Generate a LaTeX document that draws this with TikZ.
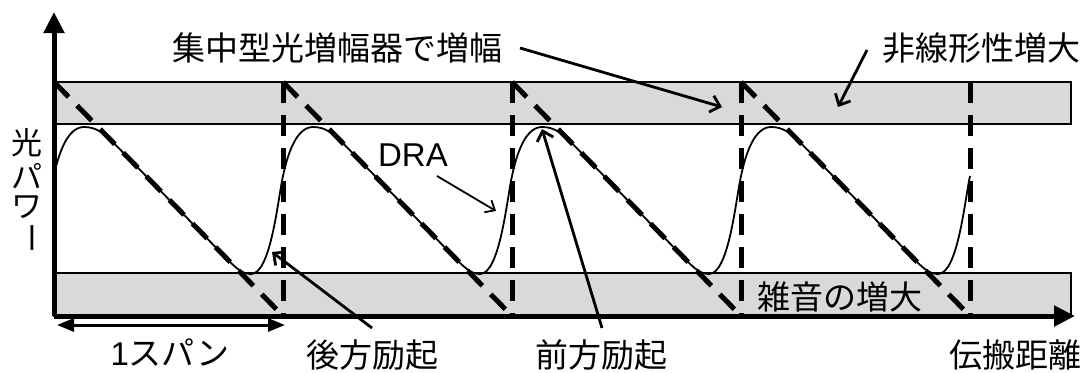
\documentclass[tikz,border=0pt]{standalone}
\usepackage{fontspec}
\setmainfont{Liberation Sans}
\newfontfamily\jp{Noto Sans CJK JP}
\usetikzlibrary{arrows.meta}
\definecolor{bandgray}{RGB}{217,217,217}
\begin{document}
\begin{tikzpicture}[x=1pt,y=-1pt,
  band/.style={draw=black,line width=2pt,fill=bandgray},
  axis/.style={line width=5pt,-{Triangle[length=21pt,width=20pt]}},
  dashline/.style={line width=5pt,dash pattern=on 21pt off 12pt},
  curve/.style={line width=1.8pt},
  ann/.style={line width=2.8pt,-{Straight Barb[length=9pt,width=17pt,line width=2.8pt]}},
  annthin/.style={line width=1.8pt,-{Straight Barb[length=8pt,width=14pt,line width=1.8pt]}},
  span/.style={line width=3pt,{Triangle[length=17pt,width=13pt]}-{Triangle[length=17pt,width=13pt]}},
  lbl/.style={font=\fontsize{33}{36}\selectfont\jp,inner sep=0pt},
  vlbl/.style={font=\fontsize{31}{34}\selectfont\jp,inner sep=0pt},
]
\useasboundingbox (0,0) rectangle (1086,372);
% bands
\draw[band] (54,82) rectangle (1071,124);
\draw[band] (54,273) rectangle (1071,316);
% axes
\coordinate (O) at (54,316);
\coordinate (ytip) at (54,12);
\coordinate (xtip) at (1075,316);
\draw[axis] (O) -- (ytip);
\draw[axis] (O) -- (xtip);
% power curve (DRA)
\draw[curve] (54,175) foreach \a in {54,283,512,741} {
  .. controls (\a+5,152) and (\a+14,127) .. (\a+30,127)
  .. controls (\a+42,127) and (\a+50,133) .. (\a+60,143.3)
  -- (\a+175,260.9)
  .. controls (\a+183,269) and (\a+189,274) .. (\a+197,274)
  .. controls (\a+217,274) and (\a+224,198) .. (\a+229,176) };
% dashed lumped amplification
\foreach \a/\b in {54/283,283/512,512/741,741/970}{
  \draw[dashline] (\a,82) -- (\b,316);
}
\foreach \b in {283,512,741,970}{
  \draw[dashline] (\b,82) -- (\b,316);
}
% labels
\node[lbl] (lumped) at (337,48) {集中型光増幅器で増幅};
\node[lbl] (nonlin) at (981,48) {非線形性増大};
\node[font=\fontsize{33}{36}\selectfont,inner sep=0pt] (dra) at (413,155) {DRA};
\node[lbl] (noise) at (840,297) {雑音の増大};
\node[lbl] (backw) at (372,355) {後方励起};
\node[lbl] (forw) at (601,355) {前方励起};
\node[lbl] (dist) at (1015,355) {伝搬距離};
\node[font=\fontsize{33}{36}\selectfont,inner sep=0pt] (spanlbl) at (170,353) {1{\jp スパン}};
\node[vlbl] (y1) at (27,143) {光};
\node[vlbl] (y2) at (27,176) {パ};
\node[vlbl] (y3) at (27,207) {ワ};
\node[vlbl,rotate=-90] (y4) at (27,238) {ー};
% annotation arrows
\coordinate (a1s) at (520,48);  \coordinate (a1e) at (722,107);
\coordinate (a2s) at (867,50);  \coordinate (a2e) at (838,107);
\coordinate (a3s) at (437,176); \coordinate (a3e) at (496,211);
\coordinate (a4s) at (372,328); \coordinate (a4e) at (272,252);
\coordinate (a5s) at (602,328); \coordinate (a5e) at (542,129);
\draw[ann] (a1s) -- (a1e);
\draw[ann] (a2s) -- (a2e);
\draw[annthin] (a3s) -- (a3e);
\draw[ann] (a4s) -- (a4e);
\draw[ann] (a5s) -- (a5e);
% span arrow
\coordinate (s1) at (57,325); \coordinate (s2) at (285,325);
\draw[span] (s1) -- (s2);
\end{tikzpicture}
\end{document}
